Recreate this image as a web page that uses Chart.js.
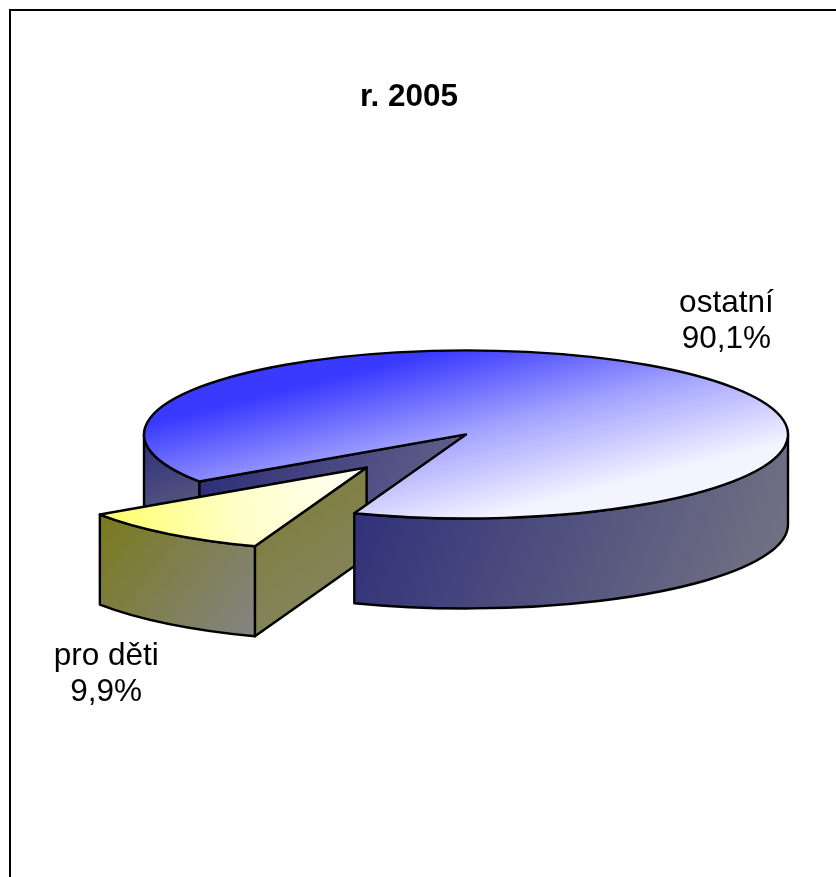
<!DOCTYPE html>
<html>
<head>
<meta charset="utf-8">
<script src="https://cdn.jsdelivr.net/npm/chart.js@4/dist/chart.umd.min.js"></script>
<style>
  html, body { margin: 0; padding: 0; background: #fff; }
  #canvas { display: block; }
</style>
</head>
<body>
<canvas id="canvas" width="836" height="877"></canvas>
<script>
// data
var labels = ['pro děti', 'ostatní'];
var values = [9.9, 90.1];
var explode = [161, 0];   // pro děti slice is pulled out

// look of the 3d pie
var pieRadius = 322;
var tilt = 0.261;
var depth = 90;
// top face gradients, given in screen pixels from the slice apex
var topGrad = [
  { from: [-255, 45], to: [-10, 0], stops: ['#ffff70', '#ffffc8', '#fffff4'] },
  { from: [-21, -84], to: [21, 84], stops: ['#3a3aff', '#a4a4ff', '#f4f4ff'] }
];
var wallCols = [['#7a7a1c', '#848484'], ['#2c2c7a', '#767684']];
var cutCols = [['#7c7c30', '#87876c'], ['#2a2a78', '#6c6c8e']];

Chart.defaults.font.family = "'Liberation Sans', Arial, sans-serif";

function pt(s, ang, rr, z) {
  return [s.cx + rr * Math.cos(ang), s.cy + rr * tilt * Math.sin(ang) + z];
}

function boxGrad(ctx, pts, cols) {
  var x0 = 1e9, y0 = 1e9, x1 = -1e9, y1 = -1e9;
  pts.forEach(function (p) {
    x0 = Math.min(x0, p[0]); y0 = Math.min(y0, p[1]);
    x1 = Math.max(x1, p[0]); y1 = Math.max(y1, p[1]);
  });
  var g = ctx.createLinearGradient(x0, y0, x1, y1);
  g.addColorStop(0, cols[0]);
  g.addColorStop(1, cols[1]);
  return g;
}

function paint(ctx, fill) {
  if (fill) { ctx.fillStyle = fill; ctx.fill(); }
  ctx.lineWidth = 2.4;
  ctx.lineJoin = 'round';
  ctx.strokeStyle = '#000';
  ctx.stroke();
}

// pieces of the rim that face the viewer
function frontParts(a0, a1) {
  var out = [];
  var n0 = Math.floor(a0 / (2 * Math.PI)) - 1;
  for (var n = n0; n <= n0 + 3; n++) {
    var lo = Math.max(a0, n * 2 * Math.PI);
    var hi = Math.min(a1, n * 2 * Math.PI + Math.PI);
    if (hi > lo + 1e-6) out.push([lo, hi]);
  }
  return out;
}

function drawCut(ctx, s, ang) {
  var p = [pt(s, ang, 0, 0), pt(s, ang, s.r, 0), pt(s, ang, s.r, depth), pt(s, ang, 0, depth)];
  ctx.beginPath();
  ctx.moveTo(p[0][0], p[0][1]);
  for (var i = 1; i < 4; i++) ctx.lineTo(p[i][0], p[i][1]);
  ctx.closePath();
  paint(ctx, boxGrad(ctx, p, cutCols[s.i]));
}

function drawWall(ctx, s, a0, a1) {
  var pts = [];
  for (var j = 0; j <= 30; j++) {
    var a = a0 + (a1 - a0) * j / 30;
    pts.push(pt(s, a, s.r, 0));
    pts.push(pt(s, a, s.r, depth));
  }
  ctx.beginPath();
  ctx.ellipse(s.cx, s.cy, s.r, s.r * tilt, 0, a0, a1);
  ctx.ellipse(s.cx, s.cy + depth, s.r, s.r * tilt, 0, a1, a0, true);
  ctx.closePath();
  paint(ctx, boxGrad(ctx, pts, wallCols[s.i]));
}

function drawTop(ctx, s) {
  // let chart.js fill the slice, squashed flat
  ctx.save();
  ctx.translate(s.ex, s.y0 + s.ey * tilt);
  ctx.scale(1, tilt);
  ctx.translate(0, -s.y0);
  s.el.draw(ctx);
  ctx.restore();
  ctx.beginPath();
  ctx.moveTo(s.cx, s.cy);
  ctx.ellipse(s.cx, s.cy, s.r, s.r * tilt, 0, s.a0, s.a1);
  ctx.closePath();
  paint(ctx, null);
}

function drawSides(ctx, s, which) {
  if (which !== 'front' && Math.cos(s.a0) < 0) drawCut(ctx, s, s.a0);
  if (which !== 'front' && Math.cos(s.a1) > 0) drawCut(ctx, s, s.a1);
  frontParts(s.a0, s.a1).forEach(function (part) {
    var m = Math.cos((part[0] + part[1]) / 2);
    if (which === 'all' || (which === 'back' && m < 0) || (which === 'front' && m >= 0)) {
      drawWall(ctx, s, part[0], part[1]);
    }
  });
}

var pie3d = {
  id: 'pie3d',
  beforeDraw: function (chart) {
    var ctx = chart.ctx;
    ctx.save();
    ctx.lineWidth = 2;
    ctx.strokeStyle = '#000';
    ctx.strokeRect(10, 10, chart.width + 40, chart.height + 40);
    ctx.restore();
  },
  beforeDatasetsDraw: function (chart) {
    var ctx = chart.ctx;
    var arcs = chart.getDatasetMeta(0).data;
    var sl = arcs.map(function (el, i) {
      var p = el.getProps(['x', 'y', 'startAngle', 'endAngle', 'outerRadius']);
      var mid = (p.startAngle + p.endAngle) / 2;
      var ex = Math.cos(mid) * explode[i], ey = Math.sin(mid) * explode[i];
      return { el: el, i: i, y0: p.y, ex: ex, ey: ey, cx: p.x + ex, cy: p.y + ey * tilt,
               r: p.outerRadius, a0: p.startAngle, a1: p.endAngle, mid: mid };
    });
    chart.$slices = sl;
    ctx.save();
    var inner = sl.filter(function (s) { return !explode[s.i]; });
    var outer = sl.filter(function (s) { return explode[s.i]; });
    inner.forEach(function (s) { drawSides(ctx, s, 'back'); });
    outer.forEach(function (s) { drawSides(ctx, s, 'all'); drawTop(ctx, s); });
    inner.forEach(function (s) { drawSides(ctx, s, 'front'); drawTop(ctx, s); });
    ctx.restore();
    return false;
  },
  afterDraw: function (chart) {
    var ctx = chart.ctx;
    var total = values.reduce(function (a, b) { return a + b; }, 0);
    ctx.save();
    ctx.fillStyle = '#000';
    ctx.font = "31.5px 'Liberation Sans', Arial, sans-serif";
    ctx.textAlign = 'center';
    ctx.textBaseline = 'middle';
    (chart.$slices || []).forEach(function (s) {
      var c = Math.cos(s.mid), n = Math.sin(s.mid);
      var lx = s.cx + c * s.r * 1.31;
      var ly = s.cy + depth / 2 + 2 + n * (s.r * tilt * 1.31 + 93);
      var pct = (values[s.i] / total * 100).toFixed(1).replace('.', ',') + '%';
      ctx.fillText(labels[s.i], lx, ly - 18);
      ctx.fillText(pct, lx, ly + 18);
    });
    ctx.restore();
  }
};

new Chart(document.getElementById('canvas'), {
  type: 'pie',
  data: {
    labels: labels,
    datasets: [{
      data: values,
      borderWidth: 0,
      backgroundColor: function (c) {
        var a = c.chart.chartArea;
        var t = topGrad[c.dataIndex];
        if (!a) return t.stops[0];
        var x = (a.left + a.right) / 2, y = (a.top + a.bottom) / 2;
        // screen gradient -> gradient in the unsquashed pie plane
        var dx = t.to[0] - t.from[0], dy = t.to[1] - t.from[1];
        var ux = dx, uy = dy * tilt;
        var f = (dx * dx + dy * dy) / (ux * ux + uy * uy);
        var qx = x + t.from[0], qy = y + t.from[1] / tilt;
        var g = c.chart.ctx.createLinearGradient(qx, qy, qx + ux * f, qy + uy * f);
        t.stops.forEach(function (col, k) { g.addColorStop(k / (t.stops.length - 1), col); });
        return g;
      }
    }]
  },
  options: {
    responsive: false,
    devicePixelRatio: 1,
    animation: false,
    events: [],
    rotation: 200.3,
    radius: pieRadius,
    layout: { padding: { left: 360, right: 264, top: 0, bottom: 134 } },
    plugins: {
      legend: { display: false },
      tooltip: { enabled: false },
      title: {
        display: true,
        text: 'r. 2005',
        align: 'start',
        color: '#000',
        font: { size: 31.5, weight: 'bold' },
        padding: { top: 78, bottom: 10 }
      }
    }
  },
  plugins: [pie3d]
});
</script>
</body>
</html>
